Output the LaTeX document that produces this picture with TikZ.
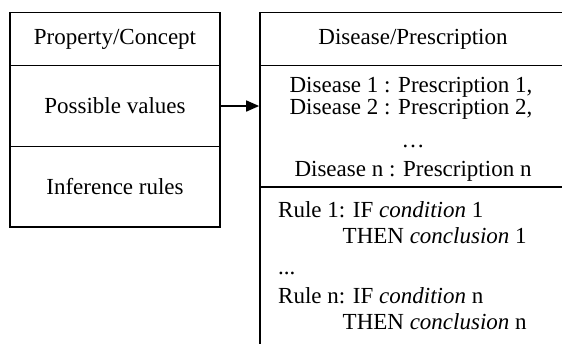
\documentclass[tikz,border=0pt]{standalone}
\usepackage{fontspec}
\setmainfont{Liberation Serif}
\usetikzlibrary{arrows.meta}
\begin{document}
\begin{tikzpicture}[x=1pt,y=-1pt,
  cell/.style={draw, line width=1.7pt, inner sep=0pt, font=\fontsize{23}{24}\selectfont},
  txt/.style={inner sep=0pt, font=\fontsize{23}{24}\selectfont, anchor=base},
  ltxt/.style={txt, anchor=base west},
  conn/.style={line width=1.7pt, -{Triangle[length=13pt,width=11pt]}}]
\useasboundingbox (0,0) rectangle (562,343);
\begin{scope}
\clip (0,0) rectangle (562,343);
% left box
\node[cell, minimum width=210pt, minimum height=53pt] (pc) at (115,39) {Property/Concept};
\node[cell, minimum width=210pt, minimum height=81pt] (pv) at (115,106) {Possible values};
\node[cell, minimum width=210pt, minimum height=80.5pt] (ir) at (115,186.75) {Inference rules};
% right box
\node[cell, minimum width=306pt, minimum height=53pt] (dp) at (413,39) {Disease/Prescription};
\node[cell, minimum width=306pt, minimum height=121.5pt] (dl) at (413,126.25) {};
\node[cell, minimum width=306pt, minimum height=180pt] (rl) at (413,277) {};
\end{scope}
% disease list
\node[txt] (d1) at (411,92) {Disease 1 : Prescription 1,};
\node[txt] (d2) at (411,114.5) {Disease 2 : Prescription 2,};
\node[txt] (dd) at (413,147) {\dots};
\node[txt] (dn) at (413,176) {Disease n : Prescription n};
% rules
\node[ltxt] (r1) at (278,217) {Rule 1: IF \textit{condition} 1};
\node[ltxt] (t1) at (342.5,243) {THEN \textit{conclusion} 1};
\node[ltxt] (rd) at (278,274) {...};
\node[ltxt] (rn) at (278,303) {Rule n: IF \textit{condition} n};
\node[ltxt] (tn) at (342.5,329) {THEN \textit{conclusion} n};
% arrow
\draw[conn] (pv.east) -- (pv.east -| dl.west);
\end{tikzpicture}
\end{document}
